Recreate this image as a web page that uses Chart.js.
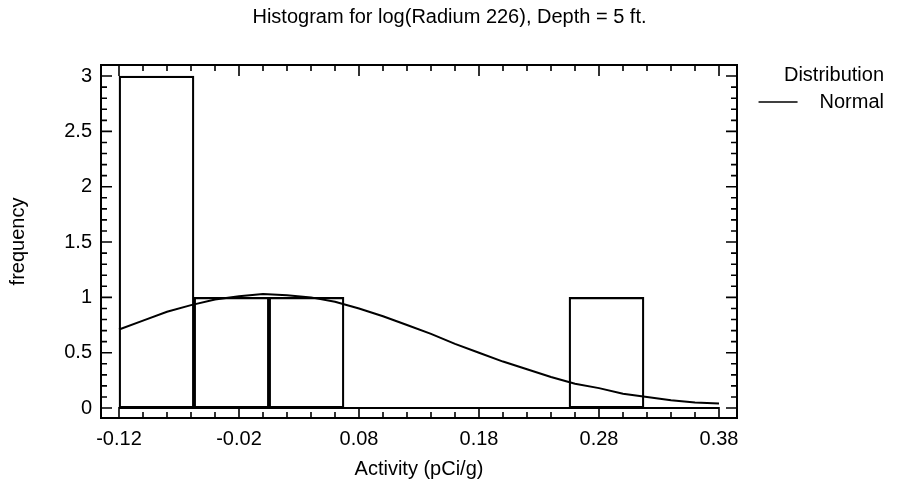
<!DOCTYPE html>
<html><head><meta charset="utf-8">
<script src="https://cdn.jsdelivr.net/npm/chart.js@4"></script>
<style>html,body{margin:0;padding:0;background:#fff}#wrap{width:899px;height:489px;position:relative}</style>
</head><body><div id="wrap"><canvas id="c"></canvas></div>
<script>
// ---- data ----
const binEdges = [-0.12, -0.0575, 0.005, 0.0675, 0.13, 0.1925, 0.255, 0.3175, 0.38];
const binCounts = [3, 1, 1, 0, 0, 0, 1, 0];
const curveX = [-0.12,-0.10,-0.08,-0.06,-0.04,-0.02,0.00,0.02,0.04,0.06,0.08,0.10,0.12,0.14,0.16,0.18,0.20,0.22,0.24,0.26,0.28,0.30,0.32,0.34,0.36,0.38];
const curveY = [0.71,0.79,0.87,0.93,0.98,1.01,1.03,1.02,1.00,0.96,0.90,0.83,0.75,0.67,0.58,0.50,0.42,0.35,0.28,0.22,0.18,0.13,0.10,0.07,0.05,0.04];
const xTickLabels = ['-0.12','-0.02','0.08','0.18','0.28','0.38'];
const yTickLabels = ['0','0.5','1','1.5','2','2.5','3'];
const titleText = 'Histogram for log(Radium 226), Depth = 5 ft.';
const xTitle = 'Activity (pCi/g)';
const yTitle = 'frequency';
const legendTitle = 'Distribution';
const seriesName = 'Normal';

const FONT = '"Liberation Sans", Arial, sans-serif';
const FS = 20;
Chart.defaults.font.family = FONT;
Chart.defaults.color = '#000';

const xMajor = xTickLabels.map(Number);
const yMajor = yTickLabels.map(Number);

const barData = binCounts.map((c, i) => ({x: (binEdges[i] + binEdges[i+1]) / 2, y: c}));
const baseData = [{x: binEdges[0], y: 0}, {x: binEdges[binEdges.length-1], y: 0}];
const curveData = curveX.map((v, i) => ({x: v, y: curveY[i]}));

const frameTicks = {
  id: 'frameTicks',
  afterDatasetsDraw(chart) {
    const {ctx, chartArea: a, scales: {x, y}} = chart;
    ctx.save();
    ctx.strokeStyle = '#000';
    ctx.lineWidth = 1.6;
    ctx.beginPath();
    const xStep = (xMajor[1] - xMajor[0]) / 5;
    const nX = Math.round((xMajor[xMajor.length-1] - xMajor[0]) / xStep);
    for (let i = 0; i <= nX; i++) {
      const px = x.getPixelForValue(xMajor[0] + i * xStep);
      const len = (i % 5 === 0) ? 11 : 6;
      ctx.moveTo(px, a.bottom); ctx.lineTo(px, a.bottom - len);
      ctx.moveTo(px, a.top); ctx.lineTo(px, a.top + len);
    }
    const yStep = (yMajor[1] - yMajor[0]) / 5;
    const nY = Math.round((yMajor[yMajor.length-1] - yMajor[0]) / yStep);
    for (let i = 0; i <= nY; i++) {
      const py = y.getPixelForValue(yMajor[0] + i * yStep);
      const len = (i % 5 === 0) ? 11 : 6;
      ctx.moveTo(a.left, py); ctx.lineTo(a.left + len, py);
      ctx.moveTo(a.right, py); ctx.lineTo(a.right - len, py);
    }
    ctx.stroke();
    ctx.lineWidth = 2;
    ctx.strokeRect(a.left, a.top, a.right - a.left, a.bottom - a.top);
    ctx.restore();
  },
  afterDraw(chart) {
    const {ctx, chartArea: a} = chart;
    ctx.save();
    ctx.fillStyle = '#000';
    ctx.font = FS + 'px ' + FONT;
    ctx.textBaseline = 'middle';
    ctx.textAlign = 'right';
    const rx = 884;
    ctx.fillText(legendTitle, rx, a.top + 10);
    ctx.fillText(seriesName, rx, a.top + 37);
    const w = ctx.measureText(seriesName).width;
    ctx.strokeStyle = '#000';
    ctx.lineWidth = 1.6;
    ctx.beginPath();
    ctx.moveTo(rx - w - 22, a.top + 37);
    ctx.lineTo(rx - w - 61, a.top + 37);
    ctx.stroke();
    ctx.restore();
  }
};

new Chart(document.getElementById('c'), {
  type: 'bar',
  data: {
    datasets: [
      {type: 'bar', label: 'hist', data: barData, backgroundColor: 'rgba(0,0,0,0)', borderColor: '#000', borderWidth: 1.6, borderSkipped: false, barPercentage: 1, categoryPercentage: 1, order: 3},
      {type: 'line', label: 'base', data: baseData, borderColor: '#000', borderWidth: 2, pointRadius: 0, tension: 0, order: 2},
      {type: 'line', label: seriesName, data: curveData, borderColor: '#000', borderWidth: 2, pointRadius: 0, tension: 0, order: 1}
    ]
  },
  options: {
    responsive: true,
    maintainAspectRatio: false,
    animation: false,
    layout: {padding: 0},
    plugins: {
      legend: {display: false},
      tooltip: {enabled: false},
      title: {display: true, text: titleText, font: {size: FS, weight: 'normal', family: FONT}, color: '#000', padding: {top: 5, bottom: 36}}
    },
    scales: {
      x: {
        type: 'linear', min: -0.135, max: 0.395, offset: false,
        grid: {display: false, drawTicks: false},
        border: {display: false},
        afterBuildTicks: s => { s.ticks = xMajor.map(v => ({value: v})); },
        afterFit: s => { s.height = 71; },
        ticks: {font: {size: FS}, padding: 9, maxRotation: 0, autoSkip: false,
          callback: (v) => { const i = xMajor.findIndex(m => Math.abs(m - v) < 1e-9); return i >= 0 ? xTickLabels[i] : ''; }},
        title: {display: true, text: xTitle, font: {size: FS}, padding: {top: 0, bottom: 8}}
      },
      y: {
        type: 'linear', min: -0.09, max: 3.1,
        grid: {display: false, drawTicks: false},
        border: {display: false},
        afterBuildTicks: s => { s.ticks = yMajor.map(v => ({value: v})); },
        afterFit: s => { s.width = 101; },
        ticks: {font: {size: FS}, padding: 9, autoSkip: false,
          callback: (v) => { const i = yMajor.findIndex(m => Math.abs(m - v) < 1e-9); return i >= 0 ? yTickLabels[i] : ''; }},
        title: {display: true, text: yTitle, font: {size: FS}, padding: {top: 6, bottom: 0}}
      },
      y2: {
        type: 'linear', position: 'right', display: true, min: -0.09, max: 3.1,
        grid: {display: false, drawTicks: false},
        border: {display: false},
        ticks: {display: false},
        afterFit: s => { s.width = 162; }
      }
    }
  },
  plugins: [frameTicks]
});
</script>
</body></html>
